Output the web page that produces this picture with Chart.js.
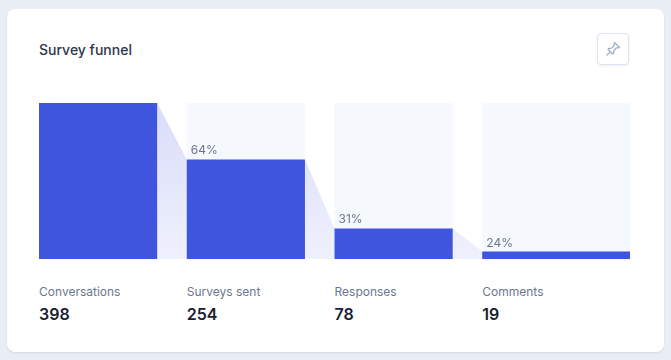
<!DOCTYPE html>
<html>
<head>
<meta charset="utf-8">
<title>Survey funnel</title>
<script src="https://cdn.jsdelivr.net/npm/chart.js@4"></script>
<style>
  html, body { margin: 0; padding: 0; }
  body { width: 671px; height: 360px; background: #e9eef6; font-family: Inter, sans-serif; overflow: hidden; position: relative; }
  .card { position: absolute; left: 7px; top: 9px; width: 657px; height: 343px; background: #fff; border-radius: 8px; box-shadow: 0 1px 2px rgba(45, 60, 90, 0.12); }
  .title { position: absolute; left: 32px; top: 32px; font-size: 14px; line-height: 18px; font-weight: 500; color: #2d3648; }
  .pin { position: absolute; left: 590px; top: 24px; width: 30px; height: 30px; border: 1px solid #dde3ee; border-radius: 4px; background: #fff; box-shadow: 0 1px 2px rgba(45, 60, 90, 0.08); }
  .pin svg { position: absolute; left: 7px; top: 7px; }
  .plot { position: absolute; left: 32px; top: 94px; width: 591px; height: 156px; }
  .stat { position: absolute; top: 274px; }
  .stat .name { font-size: 12px; line-height: 18px; color: #6c778f; }
  .stat .value { font-size: 16px; line-height: 24px; font-weight: 600; color: #1b2130; margin-top: 1px; }
</style>
</head>
<body>
<div class="card">
  <div class="title">Survey funnel</div>
  <div class="pin">
    <svg width="16" height="16" viewBox="0 0 16 16" fill="none" stroke="#9aa7bd" stroke-width="1.2" stroke-linejoin="round" stroke-linecap="round">
      <path d="M9.6 1.6 14.4 6.4 13.2 7 11.4 6.9 8.9 9.5 8.7 12.2 7.6 13 3 8.4 3.8 7.3 6.5 7.1 9.1 4.6 9 2.8Z"/>
      <path d="M5.2 10.8 1.8 14.2"/>
    </svg>
  </div>
  <div class="plot"><canvas id="funnelChart" width="591" height="156"></canvas></div>
  <div id="stats"></div>
</div>
<script>
  const categories = ["Conversations", "Surveys sent", "Responses", "Comments"];
  const counts = [398, 254, 78, 19];
  const percentLabels = ["", "64%", "31%", "24%"];

  const barShare = 0.8; // part of each step taken by the bar, the rest is the connector

  // bars and tracks are closed steps along the x axis, one step per category
  function barEnd(i) {
    return i === categories.length - 1 ? categories.length : i + barShare;
  }
  function stepPoints(values) {
    return values.flatMap((v, i) => [
      { x: i, y: 0 },
      { x: i, y: v },
      { x: barEnd(i), y: v },
      { x: barEnd(i), y: 0 },
    ]);
  }
  function connectorPoints(values) {
    return values.slice(0, -1).flatMap((v, i) => [
      { x: i + barShare, y: 0 },
      { x: i + barShare, y: v },
      { x: i + 1, y: values[i + 1] },
      { x: i + 1, y: 0 },
    ]);
  }

  function connectorFill(context) {
    const area = context.chart.chartArea;
    if (!area) return "#e4e6fb";
    const g = context.chart.ctx.createLinearGradient(0, area.top, 0, area.bottom);
    g.addColorStop(0, "#d9dcf9");
    g.addColorStop(1, "#eff1fd");
    return g;
  }

  // percent labels sit just above each bar
  const percentPlugin = {
    id: "percentLabels",
    afterDatasetsDraw(chart) {
      const { ctx, scales } = chart;
      ctx.save();
      ctx.font = "12px Inter, sans-serif";
      ctx.fillStyle = "#6c778f";
      ctx.textBaseline = "alphabetic";
      percentLabels.forEach((label, i) => {
        ctx.fillText(label, scales.x.getPixelForValue(i) + 4, scales.y.getPixelForValue(counts[i]) - 5);
      });
      ctx.restore();
    },
  };

  const lineStyle = { borderWidth: 0, pointRadius: 0, tension: 0, fill: "origin" };

  new Chart(document.getElementById("funnelChart").getContext("2d"), {
    type: "line",
    data: {
      datasets: [
        { ...lineStyle, label: "Track", order: 3, data: stepPoints(counts.map(() => counts[0])), backgroundColor: "#f5f8fc" },
        { ...lineStyle, label: "Drop-off", order: 2, data: connectorPoints(counts), backgroundColor: connectorFill },
        { ...lineStyle, label: "Count", order: 1, data: stepPoints(counts), backgroundColor: "#3f55de" },
      ],
    },
    options: {
      responsive: false,
      animation: false,
      layout: { padding: 0 },
      plugins: { legend: { display: false }, tooltip: { enabled: false } },
      scales: {
        x: { type: "linear", display: false, min: 0, max: categories.length },
        y: { display: false, min: 0, max: counts[0] },
      },
    },
    plugins: [percentPlugin],
  });

  // names and counts under the plot
  const stats = document.getElementById("stats");
  categories.forEach((name, i) => {
    const el = document.createElement("div");
    el.className = "stat";
    el.style.left = 32 + i * 147.75 + "px";
    el.innerHTML = '<div class="name">' + name + '</div><div class="value">' + counts[i] + "</div>";
    stats.appendChild(el);
  });
</script>
</body>
</html>
